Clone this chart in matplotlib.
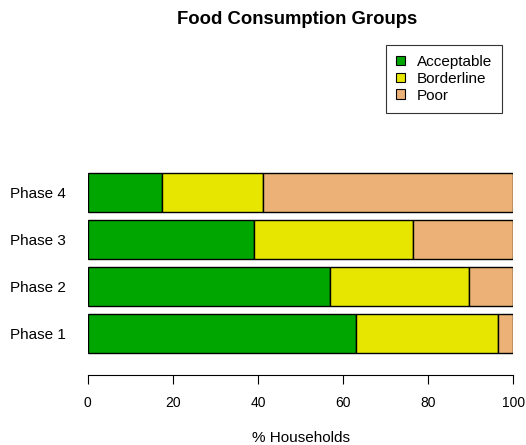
import matplotlib
matplotlib.use("Agg")
import matplotlib.pyplot as plt
from matplotlib.patches import Patch
import numpy as np

phases = ["Phase 1", "Phase 2", "Phase 3", "Phase 4"]
groups = ["Acceptable", "Borderline", "Poor"]
acceptable = [63.0, 56.9, 39.0, 17.4]
borderline = [33.5, 32.7, 37.4, 23.8]
poor = [3.5, 10.4, 23.6, 58.8]
colors = ["#00A600", "#E6E600", "#ECB176"]
xticks = [0, 20, 40, 60, 80, 100]

plt.rcParams['font.family'] = ['Liberation Sans', 'DejaVu Sans']

W, H = 526, 445
fig = plt.figure(figsize=(W/100, H/100), dpi=100)
left, right = 87.7 / W, 513.3 / W
top, bottom = 1 - 166 / H, 1 - 361.6 / H
ax = fig.add_axes([left, bottom, right - left, top - bottom])

ypos = 0.7 + 1.2 * np.arange(len(phases))
lefts = np.zeros(len(phases))
for vals, col in zip([acceptable, borderline, poor], colors):
    ax.barh(ypos, vals, left=lefts, height=1.0, color=col, edgecolor="black", linewidth=1.0)
    lefts = lefts + np.array(vals)

ax.set_xlim(0, 100)
ax.set_ylim(-0.016, 4.984)
ax.set_yticks(ypos)
ax.set_yticklabels(phases, fontsize=11)
ax.tick_params(axis='y', length=0, pad=15.8)
ax.set_xticks(xticks)
ax.set_xticklabels([str(v) for v in xticks], fontsize=11)
ax.tick_params(axis='x', length=6.5, width=0.8, pad=8.5)
for s in ["top", "right", "left"]:
    ax.spines[s].set_visible(False)
ax.spines["bottom"].set_position(("outward", 9.9))
ax.spines["bottom"].set_bounds(0, 100)
ax.spines["bottom"].set_linewidth(0.8)
ax.set_xlabel("% Households", fontsize=11, labelpad=15)

fig.text(297.5 / W, 1 - 19 / H, "Food Consumption Groups",
         ha="center", va="center", fontsize=13.3, fontweight="bold")

handles = [Patch(facecolor=c, edgecolor="black", linewidth=0.8) for c in colors]
leg = fig.legend(handles, groups, loc="upper left", bbox_to_anchor=(385.7 / W, 1 - 45 / H),
                 fontsize=11, frameon=True, fancybox=False, handlelength=0.59, handleheight=0.59,
                 labelspacing=0.18, borderpad=0.66, handletextpad=0.8, borderaxespad=0)
leg.get_frame().set_edgecolor("black")
leg.get_frame().set_linewidth(0.8)

fig.savefig("out.png", dpi=100)
